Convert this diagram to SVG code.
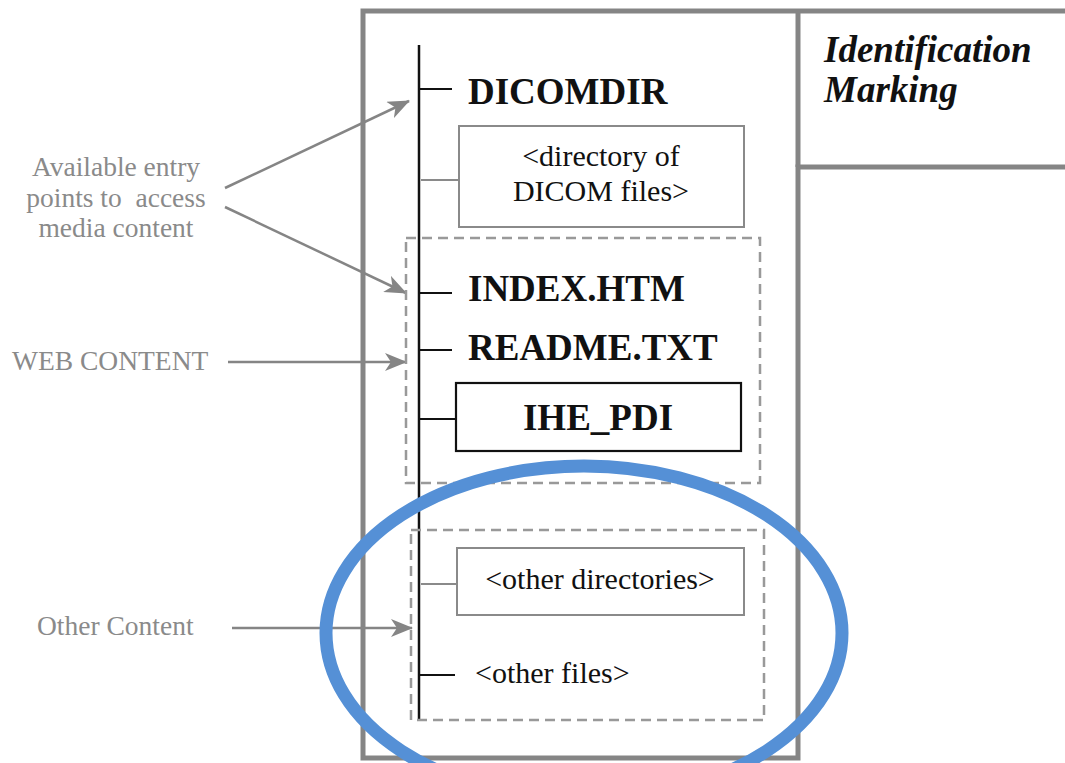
<svg xmlns="http://www.w3.org/2000/svg" width="1065" height="763" viewBox="0 0 1065 763">
  <style>
    .frame { fill: none; stroke: #858585; stroke-width: 5; }
    .tree { stroke: #111; stroke-width: 2.5; fill: none; }
    .tick { stroke: #111; stroke-width: 2.2; }
    .tick-gray { stroke: #8a8a8a; stroke-width: 2; }
    .box-gray { fill: #fff; stroke: #8a8a8a; stroke-width: 2; }
    .box-black { fill: #fff; stroke: #111; stroke-width: 2.2; }
    .group-dash { fill: none; stroke: #999; stroke-width: 2.5; stroke-dasharray: 10 6; }
    .file { font-family: "Liberation Serif", "Times New Roman", serif; font-weight: bold; font-size: 37px; fill: #111; }
    .plain { font-family: "Liberation Serif", "Times New Roman", serif; font-size: 30px; fill: #111; }
    .label { font-family: "Liberation Serif", "Times New Roman", serif; font-size: 27.5px; fill: #8a8a8a; }
    .ident { font-family: "Liberation Serif", "Times New Roman", serif; font-weight: bold; font-style: italic; font-size: 37px; fill: #111; }
    .pointer { stroke: #858585; stroke-width: 2.5; fill: none; marker-end: url(#head); }
    .highlight { fill: none; stroke: #5590d6; stroke-width: 13; }
  </style>
  <defs>
    <!-- filled arrowhead for the annotation pointers -->
    <marker id="head" viewBox="0 0 22 18" refX="21" refY="9" markerWidth="22" markerHeight="18" markerUnits="userSpaceOnUse" orient="auto">
      <path d="M0,0 L22,9 L0,18 L6,9 Z" fill="#858585"/>
    </marker>
  </defs>

  <rect width="1065" height="763" fill="#fff"/>

  <!-- media frame -->
  <g id="frame">
    <path class="frame" d="M1065,11 H363 V758 H798 V167 H1065"/>
    <line class="frame" x1="798" y1="11" x2="798" y2="167"/>
  </g>

  <!-- label area -->
  <g id="identification">
    <text class="ident" x="824" y="62">Identification</text>
    <text class="ident" x="824" y="102">Marking</text>
  </g>

  <!-- directory tree connectors -->
  <g id="connectors">
    <line class="tree" x1="419" y1="45" x2="419" y2="720"/>
    <line class="tick" x1="419" y1="89" x2="452" y2="89"/>
    <line class="tick-gray" x1="421" y1="180" x2="459" y2="180"/>
    <line class="tick" x1="419" y1="293" x2="452" y2="293"/>
    <line class="tick" x1="419" y1="350" x2="452" y2="350"/>
    <line class="tick" x1="419" y1="419" x2="456" y2="419"/>
    <line class="tick-gray" x1="421" y1="584" x2="457" y2="584"/>
    <line class="tick" x1="419" y1="675" x2="455" y2="675"/>
    <line class="pointer" x1="225" y1="188" x2="409" y2="101"/>
    <line class="pointer" x1="225" y1="207" x2="406" y2="293"/>
    <line class="pointer" x1="228" y1="362" x2="406" y2="362"/>
    <line class="pointer" x1="232" y1="628" x2="412" y2="628"/>
  </g>

  <g id="dicomdir">
    <text class="file" x="468" y="104">DICOMDIR</text>
  </g>

  <g id="dicom-files">
    <rect class="box-gray" x="459" y="126" width="285" height="101"/>
    <text class="plain" x="601" y="166" text-anchor="middle">&lt;directory of</text>
    <text class="plain" x="601" y="201" text-anchor="middle">DICOM files&gt;</text>
  </g>

  <g id="web-content">
    <rect class="group-dash" x="406" y="238" width="354" height="245"/>
  </g>

  <g id="index-htm">
    <text class="file" x="468" y="301">INDEX.HTM</text>
  </g>

  <g id="readme-txt">
    <text class="file" x="468" y="360">README.TXT</text>
  </g>

  <g id="ihe-pdi">
    <rect class="box-black" x="456" y="383" width="285" height="68"/>
    <text class="file" x="598" y="430" text-anchor="middle">IHE_PDI</text>
  </g>

  <g id="other-content">
    <rect class="group-dash" x="411" y="530" width="353" height="190"/>
  </g>

  <g id="other-directories">
    <rect class="box-gray" x="457" y="548" width="287" height="67"/>
    <text class="plain" x="600" y="589" text-anchor="middle">&lt;other directories&gt;</text>
  </g>

  <g id="other-files">
    <text class="plain" x="475" y="683">&lt;other files&gt;</text>
  </g>

  <!-- side annotations -->
  <g id="entry-points-label">
    <text class="label" x="116" y="176" text-anchor="middle">Available entry</text>
    <text class="label" x="116" y="207" text-anchor="middle" xml:space="preserve">points to  access</text>
    <text class="label" x="116" y="237" text-anchor="middle">media content</text>
  </g>
  <g id="web-content-label">
    <text class="label" x="12" y="370">WEB CONTENT</text>
  </g>
  <g id="other-content-label">
    <text class="label" x="37" y="635">Other Content</text>
  </g>

  <!-- emphasis ring -->
  <g id="highlight">
    <ellipse class="highlight" cx="584" cy="633" rx="258" ry="167"/>
  </g>
</svg>
